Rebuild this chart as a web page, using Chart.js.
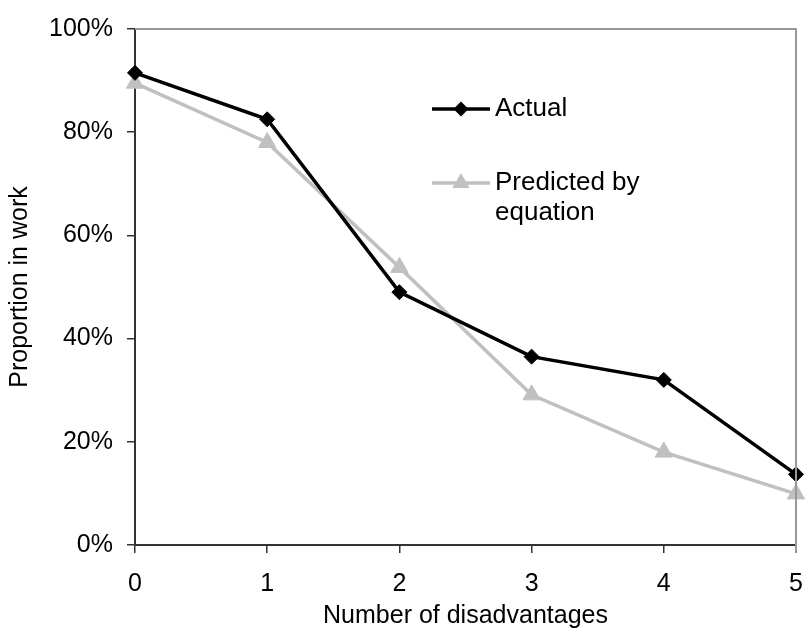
<!DOCTYPE html>
<html>
<head>
<meta charset="utf-8">
<script src="https://cdn.jsdelivr.net/npm/chart.js@4/dist/chart.umd.min.js"></script>
<style>
  html, body { margin: 0; padding: 0; background: #fff; }
  canvas { display: block; }
</style>
</head>
<body>
<canvas id="lineChart" width="807" height="629"></canvas>
<script>
// data
const disadvantages = ['0', '1', '2', '3', '4', '5'];
const actual = [91.5, 82.5, 49, 36.5, 32, 13.7];
const predicted = [89.5, 78, 53.8, 29.1, 18, 9.9];
const yTicks = [0, 20, 40, 60, 80, 100];

const FONT = 'Liberation Sans, Arial, sans-serif';

// grey frame on top / right + legend inside the plot
const framePlugin = {
    id: 'frame',
    afterDatasetsDraw(chart) {
        const ctx = chart.ctx;
        const a = chart.chartArea;
        ctx.save();
        ctx.strokeStyle = '#999999';
        ctx.lineWidth = 2;
        ctx.beginPath();
        ctx.moveTo(a.left, a.top);
        ctx.lineTo(a.right, a.top);
        ctx.lineTo(a.right, a.bottom + 8);
        ctx.stroke();
        ctx.restore();
    },
    afterDraw(chart) {
        const ctx = chart.ctx;
        const items = [
            { ds: chart.data.datasets[0], y: 109, lines: ['Actual'] },
            { ds: chart.data.datasets[1], y: 183, lines: ['Predicted by', 'equation'] }
        ];
        ctx.save();
        items.forEach(it => {
            ctx.strokeStyle = it.ds.borderColor;
            ctx.lineWidth = it.ds.borderWidth;
            ctx.beginPath();
            ctx.moveTo(432, it.y);
            ctx.lineTo(490, it.y);
            ctx.stroke();
            ctx.fillStyle = it.ds.pointBackgroundColor;
            ctx.strokeStyle = it.ds.pointBorderColor;
            ctx.lineWidth = 1;
            Chart.helpers.drawPoint(ctx, {
                pointStyle: it.ds.pointStyle,
                radius: it.ds.pointRadius,
                rotation: 0
            }, 461, it.y);
            ctx.fillStyle = '#000';
            ctx.font = '26px ' + FONT;
            ctx.textBaseline = 'middle';
            ctx.textAlign = 'left';
            it.lines.forEach((t, i) => ctx.fillText(t, 495, it.y + i * 30));
        });
        ctx.restore();
    }
};

new Chart(document.getElementById('lineChart'), {
    type: 'line',
    data: {
        labels: disadvantages,
        datasets: [
            {
                label: 'Actual',
                data: actual,
                borderColor: '#000000',
                borderWidth: 3.5,
                pointStyle: 'rectRot',
                pointRadius: 7.5,
                pointBackgroundColor: '#000000',
                pointBorderColor: '#000000',
                pointBorderWidth: 1,
                tension: 0
            },
            {
                label: 'Predicted by equation',
                data: predicted,
                borderColor: '#c0c0c0',
                borderWidth: 3.5,
                pointStyle: 'triangle',
                pointRadius: 10,
                pointBackgroundColor: '#c0c0c0',
                pointBorderColor: '#c0c0c0',
                pointBorderWidth: 1,
                tension: 0
            }
        ]
    },
    options: {
        responsive: false,
        animation: false,
        layout: { padding: { top: 25, right: 0, left: 0, bottom: 0 } },
        plugins: {
            legend: { display: false },
            tooltip: { enabled: false }
        },
        scales: {
            x: {
                offset: false,
                afterFit: s => { s.height = 84; s.paddingRight = 7; },
                grid: {
                    drawOnChartArea: false,
                    tickLength: 8,
                    color: '#333333',
                    lineWidth: 1.5
                },
                border: { color: '#333333', width: 2 },
                ticks: {
                    color: '#000',
                    font: { family: FONT, size: 25 },
                    padding: 16,
                    maxRotation: 0
                },
                title: {
                    display: true,
                    text: 'Number of disadvantages',
                    color: '#000',
                    font: { family: FONT, size: 25 },
                    padding: { top: 0, bottom: -2 }
                }
            },
            y: {
                min: 0,
                max: 100,
                afterFit: s => { s.width = 135; },
                afterBuildTicks: s => { s.ticks = yTicks.map(v => ({ value: v })); },
                grid: {
                    drawOnChartArea: false,
                    tickLength: 8,
                    color: '#333333',
                    lineWidth: 1.5
                },
                border: { color: '#333333', width: 2 },
                ticks: {
                    color: '#000',
                    font: { family: FONT, size: 25 },
                    padding: 14,
                    callback: v => v + '%'
                },
                title: {
                    display: true,
                    text: 'Proportion in work',
                    color: '#000',
                    font: { family: FONT, size: 25 },
                    padding: { top: 5, bottom: 0 }
                }
            }
        }
    },
    plugins: [framePlugin]
});
</script>
</body>
</html>
